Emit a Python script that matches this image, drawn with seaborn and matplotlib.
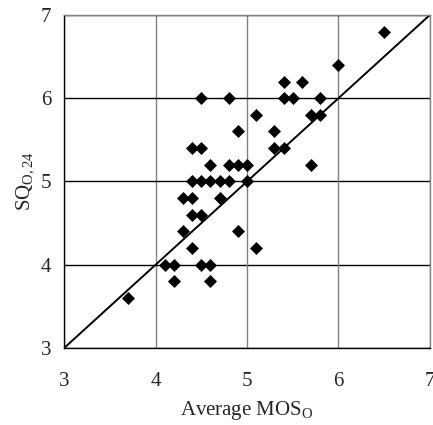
import matplotlib
matplotlib.use("Agg")
import matplotlib.pyplot as plt
import seaborn as sns
import pandas as pd

mos = [3.7, 4.1, 4.2, 4.2, 4.5, 4.6, 4.6,
       4.3, 4.9, 4.4, 5.1, 4.4, 4.5, 4.3, 4.4, 4.7,
       4.4, 4.5, 4.6, 4.7, 4.8, 5.0,
       4.6, 4.8, 4.9, 5.0, 5.7,
       4.4, 4.5, 5.3, 5.4, 4.9, 5.3,
       5.1, 5.7, 5.8,
       4.5, 4.8, 5.4, 5.5, 5.8,
       5.4, 5.6, 6.0, 6.5]
sq = [3.6, 4.0, 4.0, 3.8, 4.0, 4.0, 3.8,
      4.4, 4.4, 4.2, 4.2, 4.6, 4.6, 4.8, 4.8, 4.8,
      5.0, 5.0, 5.0, 5.0, 5.0, 5.0,
      5.2, 5.2, 5.2, 5.2, 5.2,
      5.4, 5.4, 5.4, 5.4, 5.6, 5.6,
      5.8, 5.8, 5.8,
      6.0, 6.0, 6.0, 6.0, 6.0,
      6.2, 6.2, 6.4, 6.8]
ticks = [3, 4, 5, 6, 7]

df = pd.DataFrame({"mos": mos, "sq": sq})

sns.set_style("white")
plt.rcParams["font.family"] = ["Liberation Serif", "DejaVu Serif"]
plt.rcParams["mathtext.fontset"] = "custom"
plt.rcParams["mathtext.rm"] = "Liberation Serif"
plt.rcParams["mathtext.it"] = "Liberation Serif:italic"

fig = plt.figure(figsize=(4.33, 4.25), dpi=100)
ax = fig.add_axes([0.148, 0.181, 0.845, 0.784])

for t in ticks:
    ax.axvline(t, color="#808080", lw=1.0, zorder=1)
    ax.axhline(t, color="black", lw=1.0, zorder=1)

ax.plot([3, 7], [3, 7], color="black", lw=1.4, zorder=2)
sns.scatterplot(data=df, x="mos", y="sq", marker="D", s=44, color="black",
                edgecolor="black", linewidth=0, ax=ax, zorder=3)

ax.set_xlim(3, 7)
ax.set_ylim(3, 7)
ax.set_xticks(ticks)
ax.set_yticks(ticks)
ax.tick_params(axis="x", direction="out", length=5, color="#808080", labelsize=15, pad=12)
ax.tick_params(axis="y", direction="out", length=5, color="black", labelsize=15, pad=4)
for side in ["left", "bottom"]:
    ax.spines[side].set_color("black")
for side in ["top", "right"]:
    ax.spines[side].set_color("#808080")
for s in ax.spines.values():
    s.set_linewidth(1.0)
ax.set_xlabel(r"Average MOS$_\mathrm{O}$", fontsize=15, labelpad=6)
ax.set_ylabel(r"SQ$_\mathrm{O,24}$", fontsize=15, labelpad=4)

fig.savefig("out.png", dpi=100)
